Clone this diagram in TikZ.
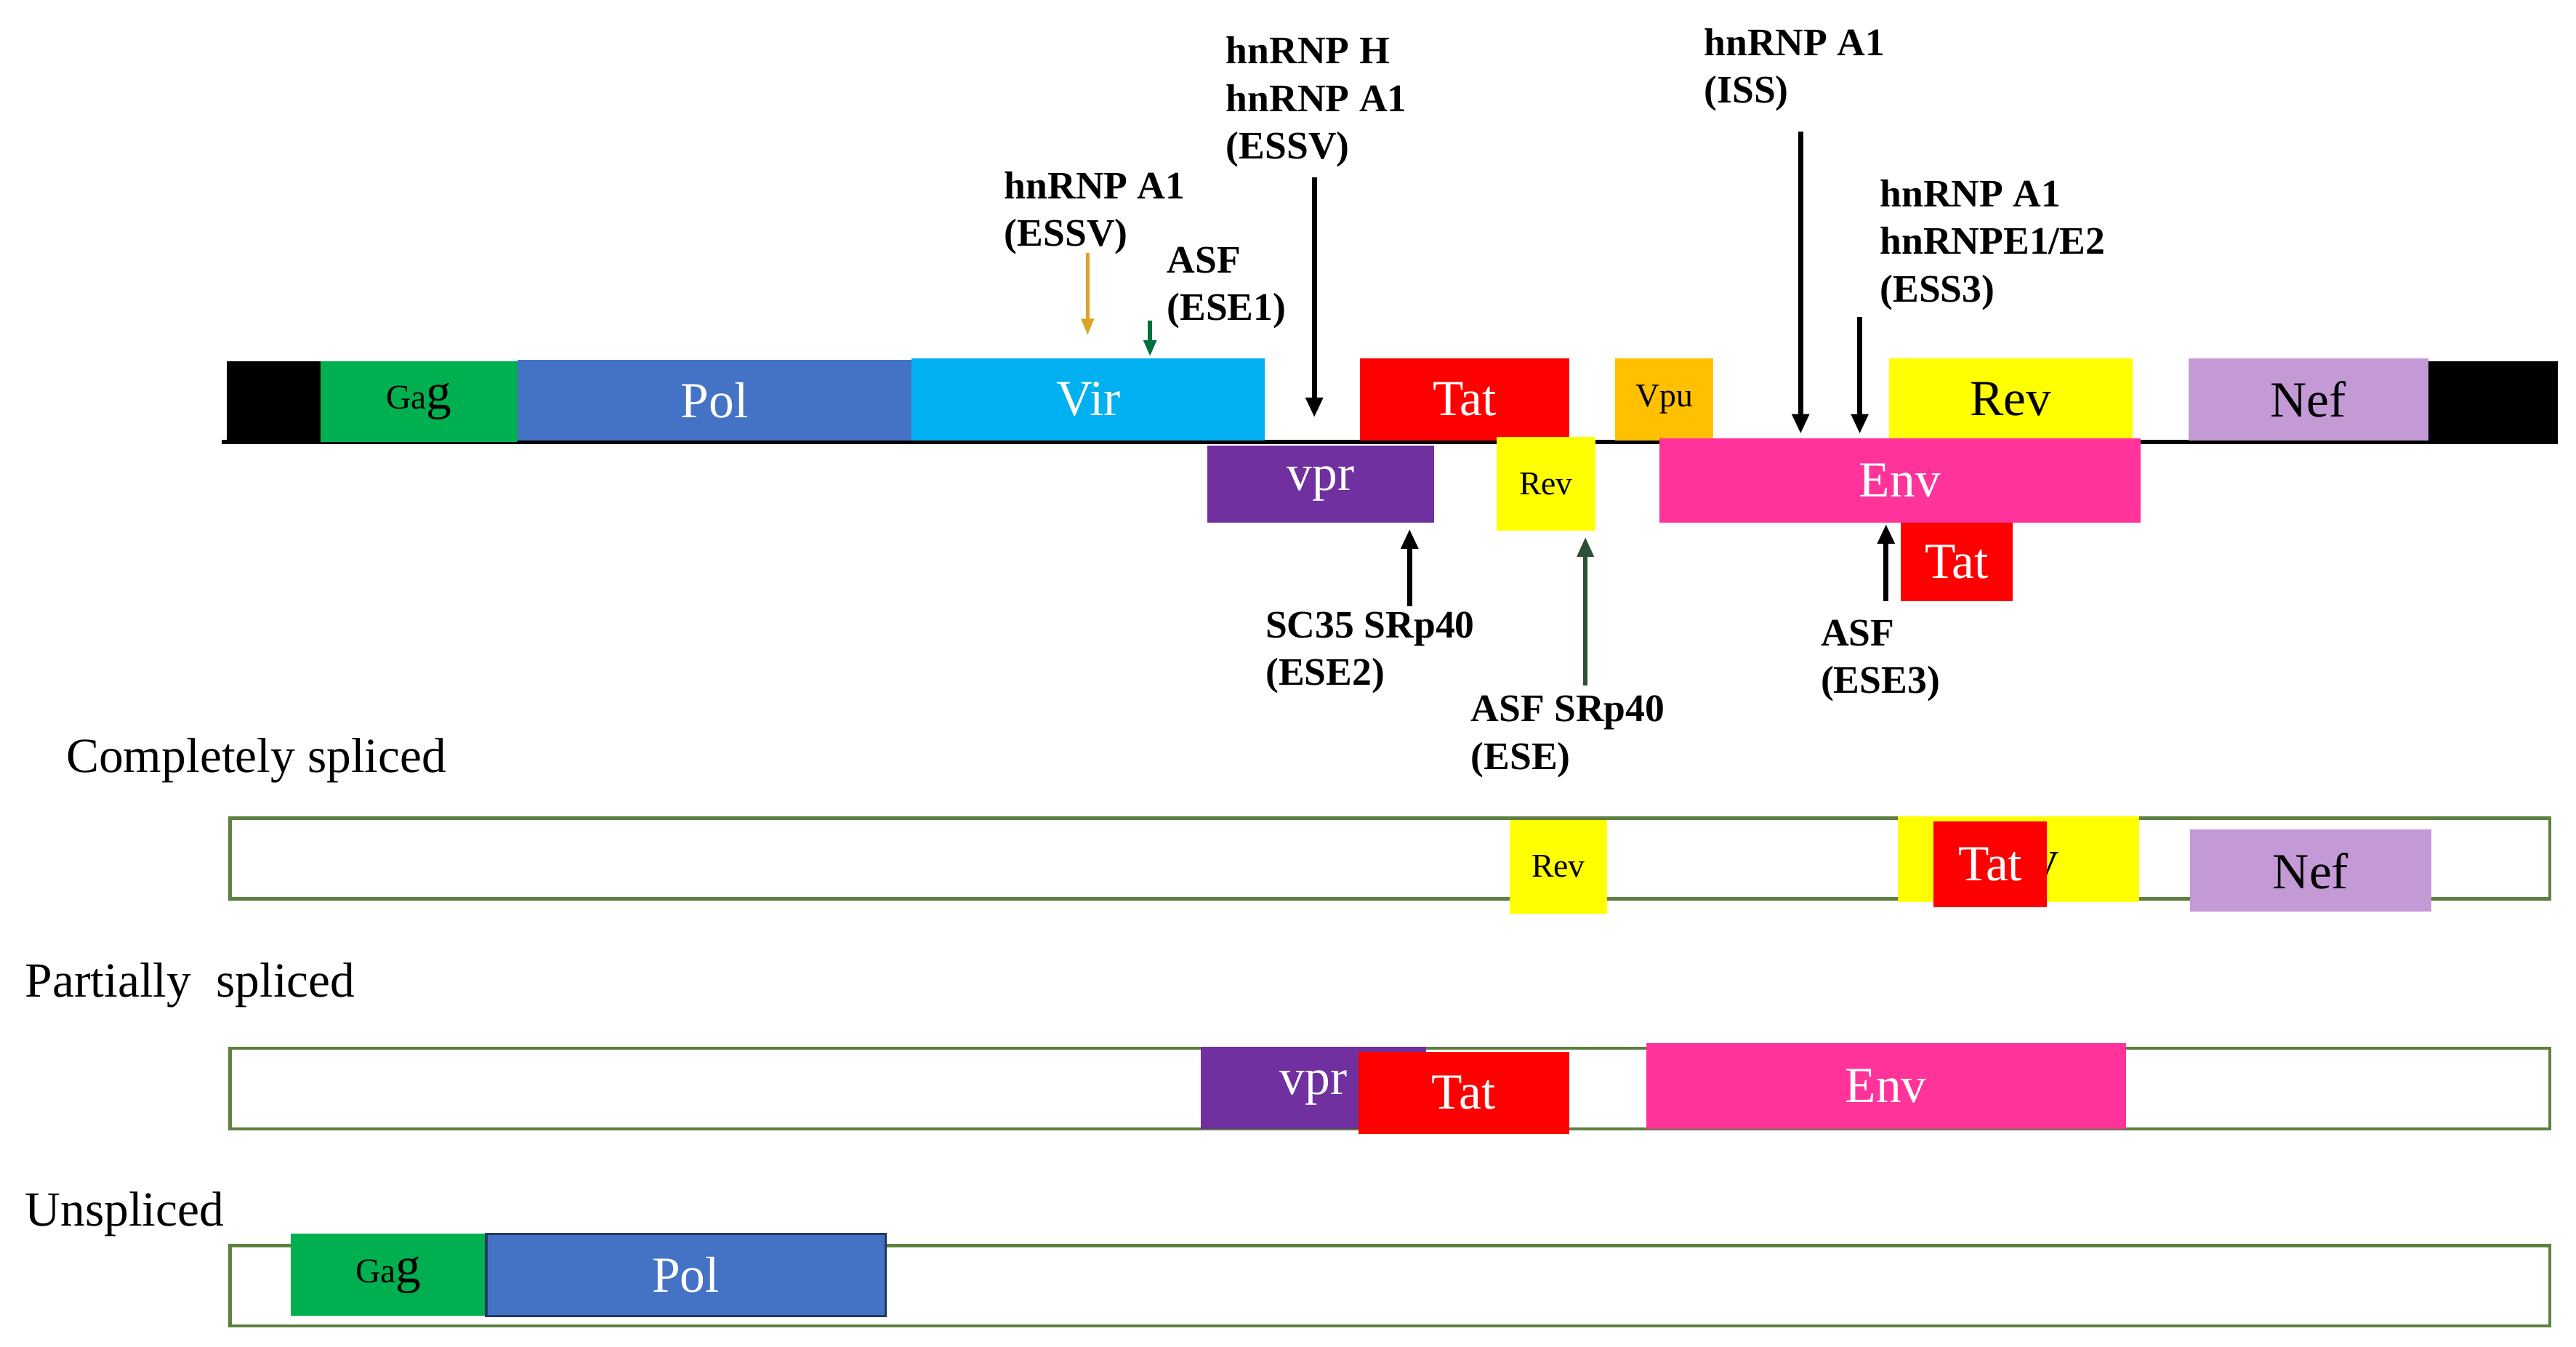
\documentclass[tikz,border=0pt]{standalone}
\usepackage{fontspec}
\setmainfont{Liberation Serif}
\usepackage{xcolor}
\usepackage{tikz}
\definecolor{GagGreen}{HTML}{00B050}
\definecolor{PolBlue}{HTML}{4472C4}
\definecolor{VirCyan}{HTML}{00B0F0}
\definecolor{TatRed}{HTML}{FF0000}
\definecolor{VpuOrange}{HTML}{FFC000}
\definecolor{RevYellow}{HTML}{FFFF00}
\definecolor{NefLilac}{HTML}{C49AD6}
\definecolor{VprPurple}{HTML}{7030A0}
\definecolor{EnvPink}{HTML}{FF3399}
\definecolor{RowGreen}{HTML}{5E8040}
\definecolor{GoldArrow}{HTML}{D9A528}
\definecolor{SiteGreen}{HTML}{00703C}
\definecolor{EseGreen}{HTML}{2F5036}
\usetikzlibrary{arrows.meta}
\newcommand{\gagtext}{{\fontsize{12}{14}\selectfont Ga}g}
% name, x1, y1, x2, y2, options, text
\newcommand{\genebox}[7]{%
    \node[gene,#6,minimum width={(#4-#2)*0.02cm},minimum height={(#5-#3)*0.02cm}]
        (#1) at ({(#2+#4)/2},{(#3+#5)/2}) {#7};}

\begin{document}
\begin{tikzpicture}[x=0.02cm,y=-0.02cm,
        gene/.style={inner sep=0pt,outer sep=0pt,font=\fontsize{17.5}{20}\selectfont},
        small/.style={font=\fontsize{11.5}{13}\selectfont},
        rowbox/.style={draw=RowGreen,line width=0.04cm},
        lbl/.style={anchor=north west,align=left,inner sep=0pt,font=\fontsize{13.5}{16.5}\selectfont\bfseries},
        rowlbl/.style={anchor=base west,inner sep=0pt,font=\fontsize{17}{20}\selectfont},
        site/.style={line width=0.06cm,-{Triangle[length=0.24cm,width=0.2cm]}},
        thinsite/.style={line width=0.04cm,-{Triangle[length=0.2cm,width=0.15cm]}}]
    \useasboundingbox (0,0) rectangle (1568,819.5);

    % genome
    \coordinate (lineW) at (135,269);
    \coordinate (lineE) at (1557,269);
    \draw[line width=0.06cm] (lineW) -- (lineE);

    \genebox{ltrL}{138}{220}{195}{270}{fill=black}{}
    \genebox{gag}{195}{220}{315}{269}{fill=GagGreen}{\gagtext}
    \genebox{pol}{315}{219}{555}{268}{fill=PolBlue,text=white}{Pol}
    \genebox{vir}{555}{218}{770}{268}{fill=VirCyan,text=white}{Vir}
    \genebox{tat}{828}{218}{955}{268}{fill=TatRed,text=white}{Tat}
    \genebox{vpu}{983}{218}{1043}{268}{fill=VpuOrange,small}{Vpu}
    \genebox{rev}{1150}{218}{1298}{268}{fill=RevYellow}{Rev}
    \genebox{nef}{1332}{218}{1478}{268}{fill=NefLilac}{Nef}
    \genebox{ltrR}{1478}{220}{1557}{270}{fill=black}{}

    \genebox{vpr}{735}{271}{873}{318}{fill=VprPurple,text=white}{vpr}
    \genebox{revB}{911}{266}{971}{323}{fill=RevYellow,small}{Rev}
    \genebox{env}{1010}{267}{1303}{318}{fill=EnvPink,text=white}{Env}
    \genebox{tatB}{1157}{318}{1225}{366}{fill=TatRed,text=white}{Tat}

    % splicing factors
    \node[lbl] (essvA) at (611,104) {hnRNP A1\\(ESSV)};
    \node[lbl] (ese1) at (710,150) {ASF\\(ESE1)};
    \node[lbl] (essvB) at (746,22) {hnRNP H\\hnRNP A1\\(ESSV)};
    \node[lbl] (iss) at (1037,17) {hnRNP A1\\(ISS)};
    \node[lbl] (ess3) at (1144,109) {hnRNP A1\\hnRNPE1/E2\\(ESS3)};
    \node[lbl] (ese2) at (770,372) {SC35 SRp40\\(ESE2)};
    \node[lbl] (ese) at (895,423) {ASF SRp40\\(ESE)};
    \node[lbl] (ese3) at (1108,377) {ASF\\(ESE3)};

    \coordinate (essvAs) at (662,154);
    \coordinate (essvAt) at (662,204);
    \coordinate (ese1s) at (700,195);
    \coordinate (ese1t) at (700,217);
    \coordinate (essvBs) at (800,108);
    \coordinate (essvBt) at (800,254);
    \coordinate (isss) at (1096,80);
    \coordinate (isst) at (1096,264);
    \coordinate (ess3s) at (1132,193);
    \coordinate (ess3t) at (1132,264);
    \coordinate (ese2s) at (858,369);
    \coordinate (ese2t) at (858,322);
    \coordinate (eses) at (965,417);
    \coordinate (eset) at (965,327);
    \coordinate (ese3s) at (1148,366);
    \coordinate (ese3t) at (1148,319);

    \draw[thinsite,GoldArrow] (essvAs) -- (essvAt);
    \draw[thinsite,SiteGreen,line width=0.05cm] (ese1s) -- (ese1t);
    \draw[site] (essvBs) -- (essvBt);
    \draw[site] (isss) -- (isst);
    \draw[site] (ess3s) -- (ess3t);
    \draw[site] (ese2s) -- (ese2t);
    \draw[site,EseGreen,line width=0.05cm] (eses) -- (eset);
    \draw[site] (ese3s) -- (ese3t);

    % transcripts
    \node[rowlbl] (compl) at (40,470) {Completely spliced};
    \genebox{rowA}{140}{498}{1552}{547}{rowbox}{}
    \genebox{revC}{919}{499}{978}{556}{fill=RevYellow,small}{Rev}
    \genebox{revD}{1155}{497}{1302}{549}{fill=RevYellow}{Rev}
    \genebox{tatC}{1177}{500}{1246}{552}{fill=TatRed,text=white}{Tat}
    \genebox{nefC}{1333}{505}{1480}{555}{fill=NefLilac}{Nef}

    \node[rowlbl] (part) at (15,607) {Partially\ \ spliced};
    \genebox{rowB}{140}{638}{1552}{687}{rowbox}{}
    \genebox{vprC}{731}{637}{868}{687}{fill=VprPurple,text=white}{vpr}
    \genebox{tatD}{827}{640}{955}{690}{fill=TatRed,text=white}{Tat}
    \genebox{envC}{1002}{635}{1294}{687}{fill=EnvPink,text=white}{Env}

    \node[rowlbl] (unsp) at (15,746) {Unspliced};
    \genebox{rowC}{140}{758}{1552}{807}{rowbox}{}
    \genebox{gagC}{177}{751}{296}{801}{fill=GagGreen}{\gagtext}
    \genebox{polC}{296}{751}{539}{801}{fill=PolBlue,text=white,draw=PolBlue!50!black,line width=0.03cm}{Pol}
\end{tikzpicture}
\end{document}
